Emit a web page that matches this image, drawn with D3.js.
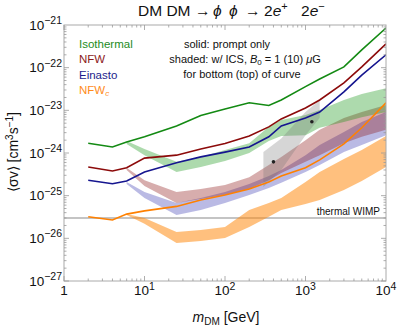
<!DOCTYPE html>
<html lang="en">
<head>
<meta charset="UTF-8">
<title>DM DM to phi phi to 2e+ 2e-</title>
<script src="https://d3js.org/d3.v7.min.js"></script>
<style>
  body { margin: 0; background: #fff; }
  text { font-family: "Liberation Sans", Arial, sans-serif; }
</style>
</head>
<body>
<script>

// masses (GeV) for the prompt-only curves
var mass = [2, 4, 6, 10, 25, 50, 100, 200, 350, 500, 1000, 1500, 3000, 5000, 10000];
var isoPrompt = [1.7e-24, 1.38e-24, 1.8e-24, 2.4e-24, 4.3e-24, 7.6e-24, 1.07e-23, 1.5e-23, 1.3e-23, 1.75e-23, 3.6e-23, 5.4e-23, 1.04e-22, 2.6e-22, 8.5e-22];
var nfwPrompt = [4.7e-25, 3.8e-25, 4.5e-25, 7.6e-25, 8.9e-25, 1.24e-24, 1.67e-24, 2.5e-24, 4.1e-24, 6.3e-24, 1.13e-23, 1.75e-23, 4.4e-23, 1.04e-22, 3.6e-22];
var einPrompt = [2.3e-25, 1.9e-25, 2.2e-25, 3.6e-25, 5.9e-25, 8.1e-25, 1.05e-24, 1.38e-24, 2.4e-24, 4.3e-24, 6.6e-24, 9.1e-24, 2.7e-23, 6.7e-23, 2.0e-22];
var nfwcPrompt = [3.2e-26, 2.7e-26, 3.7e-26, 4.4e-26, 5.6e-26, 7.9e-26, 1.04e-25, 1.43e-25, 2.1e-25, 2.9e-25, 4.5e-25, 6.9e-25, 1.63e-24, 3.9e-24, 1.5e-23];

// masses for the ICS bands; low = B0 1 muG, high = B0 10 muG
var bandMass = [6, 10, 25, 50, 100, 200, 350, 500, 1000, 1500, 3000, 5000, 10000];
var isoLow = [1.63e-24, 8.9e-25, 3.6e-25, 4.7e-25, 6.5e-25, 1.0e-24, 1.9e-24, 2.5e-24, 2.6e-24, 3.9e-24, 5.3e-24, 6.9e-24, 9.1e-24];
var isoHigh = [1.9e-24, 1.24e-24, 6.2e-25, 8.1e-25, 1.18e-24, 1.7e-24, 4.1e-24, 5.9e-24, 7.8e-24, 1.02e-23, 1.75e-23, 2.4e-23, 3.3e-23];
var nfwLow = [4.0e-25, 1.69e-25, 6.7e-26, 8.3e-26, 1.04e-25, 1.43e-25, 2.3e-25, 3.4e-25, 6.2e-25, 8.9e-25, 1.7e-24, 2.4e-24, 3.5e-24];
var nfwHigh = [4.5e-25, 2.3e-25, 1.22e-25, 1.43e-25, 1.78e-25, 2.7e-25, 5.2e-25, 8.1e-25, 2.0e-24, 3.5e-24, 6.6e-24, 9.1e-24, 1.33e-23];
var einLow = [1.87e-25, 8.8e-26, 3.5e-26, 4.6e-26, 6.7e-26, 1.04e-25, 1.51e-25, 2.0e-25, 3.6e-25, 5.2e-25, 1.05e-24, 1.54e-24, 2.6e-24];
var einHigh = [2.1e-25, 1.22e-25, 6.7e-26, 8.8e-26, 1.22e-25, 1.87e-25, 2.9e-25, 4.0e-25, 8.9e-25, 1.54e-24, 3.1e-24, 5.3e-24, 9.1e-24];
var nfwcLow = [3.5e-26, 2.2e-26, 7.8e-27, 8.7e-27, 1.02e-26, 1.85e-26, 3.2e-26, 4.6e-26, 6.4e-26, 7.9e-26, 1.36e-25, 2.2e-25, 4.7e-25];
var nfwcHigh = [3.7e-26, 3.0e-26, 1.41e-26, 1.57e-26, 1.85e-26, 4.6e-26, 6.7e-26, 8.8e-26, 2.1e-25, 3.6e-25, 7.2e-25, 1.18e-24, 2.5e-24];

// gray band with the two marked points
var grayMass = [300, 500, 1000, 1500];
var grayLow = [1.6e-25, 4.0e-25, 2.6e-24, 6.6e-24];
var grayHigh = [1.05e-24, 2.2e-24, 9.1e-24, 1.75e-23];
var dotMass = [400, 1200];
var dotValue = [6.2e-25, 5.4e-24];

var thermalWimp = 3e-26;

var xTicks = [1, 10, 100, 1000, 10000];
var xTickExp = ["", "1", "2", "3", "4"];
var yTicks = [1e-27, 1e-26, 1e-25, 1e-24, 1e-23, 1e-22, 1e-21];
var yTickExp = ["\u221227", "\u221226", "\u221225", "\u221224", "\u221223", "\u221222", "\u221221"];

var W = 399, H = 327;
var pL = 64, pR = 386, pT = 25, pB = 281;

var svg = d3.select("body").append("svg")
    .attr("width", W)
    .attr("height", H);

var x = d3.scaleLog().domain([1, 1e4]).range([pL, pR]);
var y = d3.scaleLog().domain([1e-27, 1e-21]).range([pB, pT]);

svg.append("clipPath").attr("id", "plotclip")
    .append("rect")
    .attr("x", pL).attr("y", pT)
    .attr("width", pR - pL).attr("height", pB - pT);

var plot = svg.append("g").attr("clip-path", "url(#plotclip)");

// thermal relic line
plot.append("line")
    .attr("x1", pL).attr("x2", pR)
    .attr("y1", y(thermalWimp)).attr("y2", y(thermalWimp))
    .attr("stroke", "#c4c4c4")
    .attr("stroke-width", 2);

function bandData(ms, lo, hi) {
    return ms.map(function(m, i) { return { m: m, lo: lo[i], hi: hi[i] }; });
}

var area = d3.area()
    .x(function(d) { return x(d.m); })
    .y0(function(d) { return y(d.lo); })
    .y1(function(d) { return y(d.hi); });

var bands = [
    { lo: nfwcLow, hi: nfwcHigh, ms: bandMass, fill: "rgb(255,140,20)", op: 0.55 },
    { lo: einLow, hi: einHigh, ms: bandMass, fill: "rgb(40,40,170)", op: 0.32 },
    { lo: nfwLow, hi: nfwHigh, ms: bandMass, fill: "rgb(140,20,20)", op: 0.35 },
    { lo: isoLow, hi: isoHigh, ms: bandMass, fill: "rgb(20,150,20)", op: 0.35 },
    { lo: grayLow, hi: grayHigh, ms: grayMass, fill: "rgb(120,120,120)", op: 0.3 }
];

bands.forEach(function(b) {
    plot.append("path")
        .datum(bandData(b.ms, b.lo, b.hi))
        .attr("d", area)
        .attr("fill", b.fill)
        .attr("fill-opacity", b.op)
        .attr("stroke", "none");
});

var line = d3.line()
    .x(function(d) { return x(d[0]); })
    .y(function(d) { return y(d[1]); });

var curves = [
    { v: nfwcPrompt, color: "#ff8000" },
    { v: einPrompt, color: "#15158f" },
    { v: nfwPrompt, color: "#8c0a0a" },
    { v: isoPrompt, color: "#138a13" }
];

curves.forEach(function(c) {
    plot.append("path")
        .datum(d3.zip(mass, c.v))
        .attr("d", line)
        .attr("fill", "none")
        .attr("stroke", c.color)
        .attr("stroke-width", 1.6);
});

plot.selectAll("circle.dot")
    .data(d3.zip(dotMass, dotValue))
    .enter().append("circle")
    .attr("cx", function(d) { return x(d[0]); })
    .attr("cy", function(d) { return y(d[1]); })
    .attr("r", 1.8)
    .attr("fill", "#222");

// frame
svg.append("rect")
    .attr("x", pL).attr("y", pT)
    .attr("width", pR - pL).attr("height", pB - pT)
    .attr("fill", "none")
    .attr("stroke", "#aaa")
    .attr("stroke-width", 1);

// ticks on all four sides
var ticks = svg.append("g").attr("stroke", "#999").attr("stroke-width", 0.8);
for (var e = 0; e < 4; e++) {
    for (var k = 1; k <= 9; k++) {
        var xv = k * Math.pow(10, e);
        var len = k === 1 ? 5 : 2.5;
        var px = x(xv);
        ticks.append("line").attr("x1", px).attr("x2", px).attr("y1", pB).attr("y2", pB - len);
        ticks.append("line").attr("x1", px).attr("x2", px).attr("y1", pT).attr("y2", pT + len);
    }
}
for (var e2 = -27; e2 < -21; e2++) {
    for (var k2 = 1; k2 <= 9; k2++) {
        var yv = k2 * Math.pow(10, e2);
        var len2 = k2 === 1 ? 5 : 2.5;
        var py = y(yv);
        ticks.append("line").attr("y1", py).attr("y2", py).attr("x1", pL).attr("x2", pL + len2);
        ticks.append("line").attr("y1", py).attr("y2", py).attr("x1", pR).attr("x2", pR - len2);
    }
}

// x tick labels
xTicks.forEach(function(t, i) {
    var tx = svg.append("text")
        .attr("x", x(t)).attr("y", 295)
        .attr("text-anchor", "middle")
        .attr("font-size", 13.5)
        .attr("fill", "#111");
    if (xTickExp[i] === "") {
        tx.text("1");
    } else {
        tx.append("tspan").text("10");
        tx.append("tspan").attr("dy", -5.5).attr("font-size", 10.5).text(xTickExp[i]);
    }
});

// y tick labels
yTicks.forEach(function(t, i) {
    var ty = svg.append("text")
        .attr("x", 62).attr("y", y(t) + 4.5)
        .attr("text-anchor", "end")
        .attr("font-size", 13.5)
        .attr("fill", "#111");
    ty.append("tspan").text("10");
    ty.append("tspan").attr("dy", -5.5).attr("font-size", 10.5).text(yTickExp[i]);
});

// axis labels
var xl = svg.append("text")
    .attr("x", 226).attr("y", 322)
    .attr("text-anchor", "middle")
    .attr("font-size", 14)
    .attr("fill", "#111");
xl.append("tspan").attr("font-style", "italic").text("m");
xl.append("tspan").attr("font-size", 10).attr("dy", 3).text("DM");
xl.append("tspan").attr("dy", -3).text(" [GeV]");

var yl = svg.append("text")
    .attr("transform", "translate(18,152) rotate(-90)")
    .attr("text-anchor", "middle")
    .attr("font-size", 14)
    .attr("fill", "#111");
yl.append("tspan").text("\u27E8\u03C3v\u27E9 [cm");
yl.append("tspan").attr("font-size", 10).attr("dy", -5).text("3");
yl.append("tspan").attr("dy", 5).text("s");
yl.append("tspan").attr("font-size", 10).attr("dy", -5).text("\u22121");
yl.append("tspan").attr("dy", 5).text("]");

// title, pieces spaced like the original typesetting
var title = svg.append("text")
    .attr("y", 16)
    .attr("font-size", 15.5)
    .attr("fill", "#111");
title.append("tspan").attr("x", 138).text("DM DM");
title.append("tspan").attr("x", 195).text("\u2192");
title.append("tspan").attr("x", 213).attr("font-style", "italic").text("\u03D5");
title.append("tspan").attr("x", 229).attr("font-style", "italic").text("\u03D5");
title.append("tspan").attr("x", 245).text("\u2192");
title.append("tspan").attr("x", 264).text("2");
title.append("tspan").attr("font-style", "italic").text("e");
title.append("tspan").attr("font-size", 11).attr("dy", -6).text("+");
title.append("tspan").attr("x", 301).attr("dy", 6).text("2");
title.append("tspan").attr("font-style", "italic").text("e");
title.append("tspan").attr("font-size", 11).attr("dy", -6).text("\u2212");

// legend
var legendNames = ["Isothermal", "NFW", "Einasto", "NFW"];
var legendColors = ["#1d8c1d", "#8c1a1a", "#1c1c8c", "#ff8c1a"];
legendNames.forEach(function(n, i) {
    var t = svg.append("text")
        .attr("x", 79).attr("y", 47.5 + i * 15.5)
        .attr("font-size", 11.5)
        .attr("fill", legendColors[i])
        .text(n);
    if (i === 3) {
        t.append("tspan").attr("font-size", 8).attr("font-style", "italic").attr("dy", 2).text("c");
    }
});

// notes
svg.append("text").attr("x", 227).attr("y", 47.5).attr("text-anchor", "middle")
    .attr("font-size", 11).attr("fill", "#111").text("solid: prompt only");
var n2 = svg.append("text").attr("x", 245).attr("y", 63).attr("text-anchor", "middle")
    .attr("font-size", 11).attr("fill", "#111");
n2.append("tspan").text("shaded: w/ ICS, ");
n2.append("tspan").attr("font-style", "italic").text("B");
n2.append("tspan").attr("font-size", 8).attr("dy", 2).text("0");
n2.append("tspan").attr("dy", -2).text(" = 1 (10) ");
n2.append("tspan").attr("font-style", "italic").text("\u03BC");
n2.append("tspan").text("G");
svg.append("text").attr("x", 242).attr("y", 78).attr("text-anchor", "middle")
    .attr("font-size", 11).attr("fill", "#111").text("for bottom (top) of curve");

svg.append("text").attr("x", 380).attr("y", 215).attr("text-anchor", "end")
    .attr("font-size", 10).attr("fill", "#111").text("thermal WIMP");

</script>
</body>
</html>
